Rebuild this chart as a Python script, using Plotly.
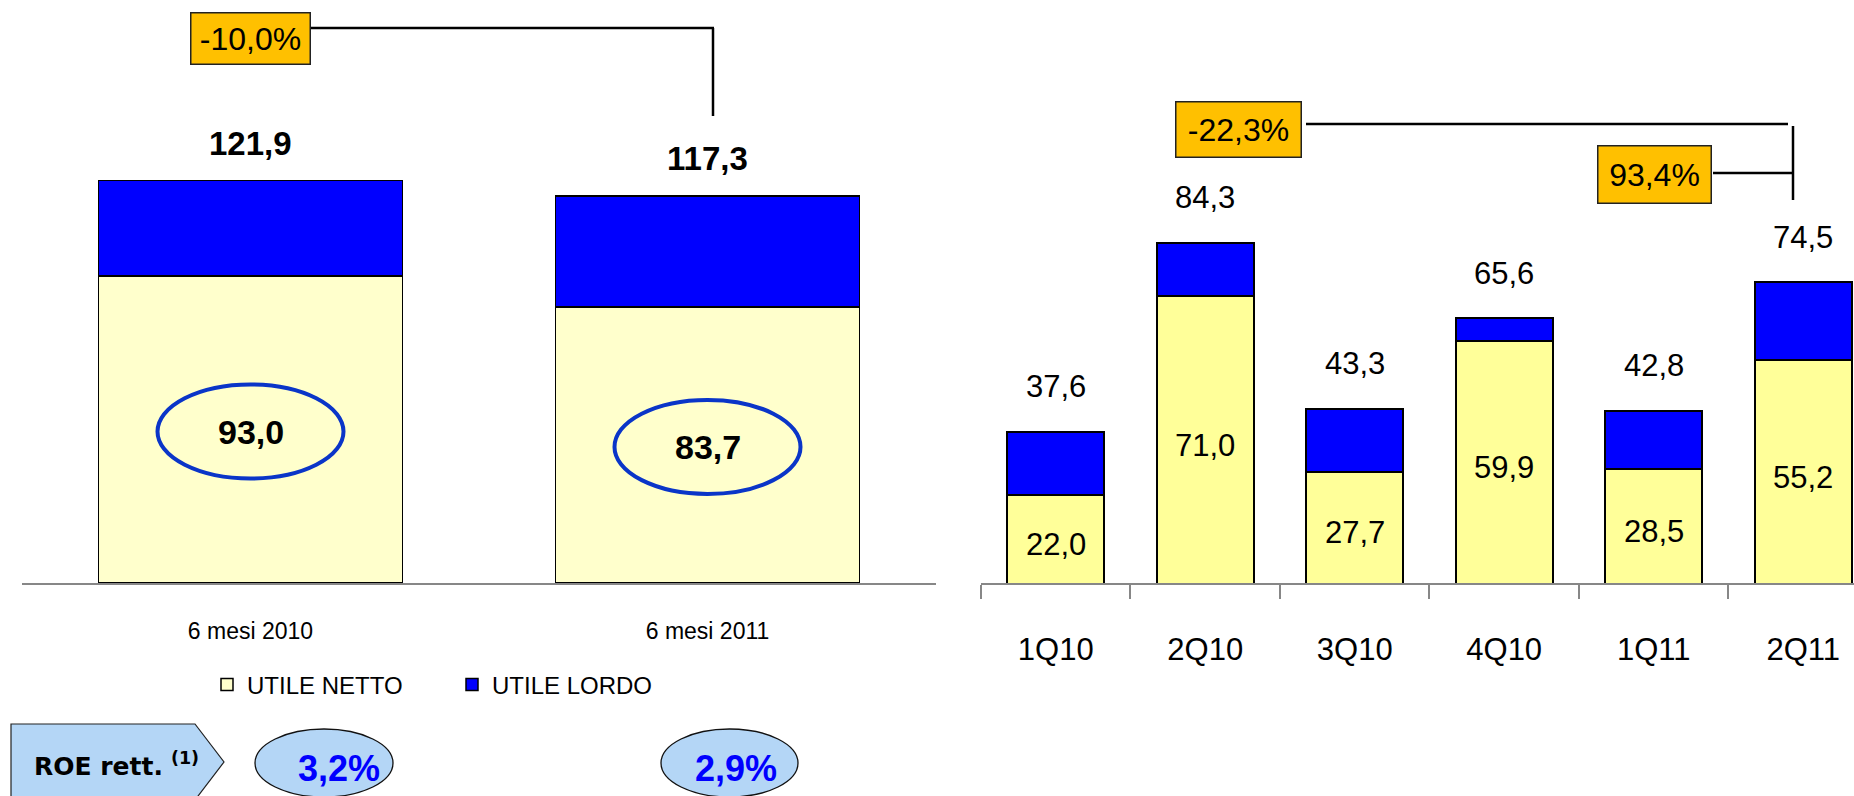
import plotly.graph_objects as go

# ---------------- data ----------------
periods = ["6 mesi 2010", "6 mesi 2011"]
netto_half = [93.0, 83.7]
lordo_half = [121.9, 117.3]
change_half = "-10,0%"

quarters = ["1Q10", "2Q10", "3Q10", "4Q10", "1Q11", "2Q11"]
netto_q = [22.0, 71.0, 27.7, 59.9, 28.5, 55.2]
lordo_q = [37.6, 84.3, 43.3, 65.6, 42.8, 74.5]
change_yoy = "-22,3%"
change_qoq = "93,4%"

roe_label = "ROE rett."
roe_values = ["3,2%", "2,9%"]

legend_names = ["UTILE NETTO", "UTILE LORDO"]

# ---------------- styling ----------------
W, H = 1854, 796
FONT = "Liberation Sans, Arial, sans-serif"
YEL_L = "#FFFFCC"
YEL_R = "#FFFF99"
BLUE = "#0000FF"
ORANGE = "#FFC000"
LIGHTBLUE = "#B4D6F6"
AXIS_GREY = "#878787"


def px(x):
    return x / W


def py(y):
    return 1 - y / H


def fmt(v):
    return f"{v:.1f}".replace(".", ",")


diff_half = [l - n for l, n in zip(lordo_half, netto_half)]
diff_q = [l - n for l, n in zip(lordo_q, netto_q)]

fig = go.Figure()

# left chart (6 months)
fig.add_trace(go.Bar(x=periods, y=netto_half, name=legend_names[0], width=0.666,
                     marker=dict(color=YEL_L, line=dict(color="black", width=1.5)),
                     xaxis="x", yaxis="y", legendrank=1))
fig.add_trace(go.Bar(x=periods, y=diff_half, name=legend_names[1], width=0.666,
                     marker=dict(color=BLUE, line=dict(color="black", width=1.5)),
                     xaxis="x", yaxis="y", legendrank=2))

# right chart (quarters)
fig.add_trace(go.Bar(x=quarters, y=netto_q, name=legend_names[0], width=0.65, showlegend=False,
                     marker=dict(color=YEL_R, line=dict(color="black", width=2)),
                     xaxis="x2", yaxis="y2"))
fig.add_trace(go.Bar(x=quarters, y=diff_q, name=legend_names[1], width=0.65, showlegend=False,
                     marker=dict(color=BLUE, line=dict(color="black", width=2)),
                     xaxis="x2", yaxis="y2"))

annotations = []
shapes = []

# left totals and circled net values
for i, (p, n, l) in enumerate(zip(periods, netto_half, lordo_half)):
    annotations.append(dict(x=p, y=l, xref="x", yref="y", text=f"<b>{fmt(l)}</b>",
                            showarrow=False, yanchor="middle", yshift=37,
                            font=dict(size=33, color="black", family=FONT)))
    annotations.append(dict(x=p, y=n / 2, xref="x", yref="y", text=f"<b>{fmt(n)}</b>",
                            showarrow=False, yanchor="middle", yshift=-2,
                            font=dict(size=34, color="black", family=FONT)))
    shapes.append(dict(type="circle", xref="x", yref="y", xsizemode="pixel", ysizemode="pixel",
                       xanchor=i, yanchor=n / 2, x0=-93, x1=93, y0=-49, y1=45,
                       line=dict(color="#0A35C8", width=4), fillcolor="rgba(0,0,0,0)"))

# right totals and inside net values
for q, n, l in zip(quarters, netto_q, lordo_q):
    annotations.append(dict(x=q, y=l, xref="x2", yref="y2", text=fmt(l),
                            showarrow=False, yanchor="middle", yshift=45,
                            font=dict(size=31, color="black", family=FONT)))
    annotations.append(dict(x=q, y=n / 2, xref="x2", yref="y2", text=fmt(n),
                            showarrow=False, yanchor="middle", yshift=-5,
                            font=dict(size=31, color="black", family=FONT)))

# orange change boxes
def box(text, cx, cy, w, h):
    annotations.append(dict(x=px(cx), y=py(cy), xref="paper", yref="paper", text=text,
                            showarrow=False, xanchor="center", yanchor="middle",
                            width=w, height=h, bgcolor=ORANGE, bordercolor="#222222",
                            borderwidth=1.5, borderpad=2,
                            font=dict(size=32, color="black", family=FONT)))

box(change_half, 250, 38, 114, 46)
box(change_yoy, 1238, 129, 120, 50)
box(change_qoq, 1654, 174, 108, 52)

def pline(x0, y0, x1, y1, w=2.5):
    shapes.append(dict(type="line", xref="paper", yref="paper",
                       x0=px(x0), y0=py(y0), x1=px(x1), y1=py(y1),
                       line=dict(color="black", width=w)))

pline(311, 28, 714, 28)
pline(713, 28, 713, 116)
pline(1306, 124, 1788, 124)
pline(1793, 126, 1793, 200)
pline(1713, 173, 1793, 173)

# ROE block
pent = [(11, 724), (195, 724), (224, 762), (195, 800), (11, 800)]
path = "M " + " L ".join(f"{px(a)},{py(b)}" for a, b in pent) + " Z"
shapes.append(dict(type="path", xref="paper", yref="paper", path=path,
                   fillcolor=LIGHTBLUE, line=dict(color="#222222", width=1.2)))
annotations.append(dict(x=px(32), y=py(764), xref="paper", yref="paper",
                        text=f"<b>{roe_label}</b> <b><sup>(1)</sup></b>", showarrow=False,
                        xanchor="left", yanchor="middle",
                        font=dict(size=25, color="black", family="DejaVu Sans, sans-serif")))
for (ex0, ex1, tx), val in zip([(255, 393, 339), (661, 798, 736)], roe_values):
    shapes.append(dict(type="circle", xref="paper", yref="paper",
                       x0=px(ex0), x1=px(ex1), y0=py(729), y1=py(797),
                       fillcolor=LIGHTBLUE, line=dict(color="#111111", width=1.3)))
    annotations.append(dict(x=px(tx), y=py(768), xref="paper", yref="paper",
                            text=f"<b>{val}</b>", showarrow=False,
                            xanchor="center", yanchor="middle",
                            font=dict(size=36, color=BLUE, family=FONT)))

fig.update_layout(
    width=W, height=H, autosize=False,
    margin=dict(l=0, r=0, t=0, b=0),
    paper_bgcolor="white", plot_bgcolor="white",
    barmode="stack", bargap=0.33,
    font=dict(family=FONT, color="black"),
    showlegend=True,
    legend=dict(orientation="h", x=px(207), y=py(685), xanchor="left", yanchor="middle",
                font=dict(size=24, family=FONT), entrywidth=200, entrywidthmode="pixels",
                bgcolor="rgba(0,0,0,0)", traceorder="normal"),
    xaxis=dict(domain=[px(22), px(936)], range=[-0.5, 1.5], showline=True,
               linecolor=AXIS_GREY, linewidth=2, ticks="", showgrid=False,
               zeroline=False, ticklabelstandoff=26,
               tickfont=dict(size=23, family=FONT, color="black"), fixedrange=True),
    yaxis=dict(domain=[py(583), 1], range=[0, 583 / 3.30], visible=False, fixedrange=True),
    xaxis2=dict(domain=[px(981), 1], range=[-0.5, 5.34], showline=True,
                linecolor=AXIS_GREY, linewidth=2, ticks="outside", ticklen=14,
                tickwidth=2, tickcolor=AXIS_GREY, tickson="boundaries", showgrid=False,
                zeroline=False, ticklabelstandoff=38,
                tickfont=dict(size=31, family=FONT, color="black"), fixedrange=True),
    yaxis2=dict(domain=[py(584), 1], range=[0, 584 / 4.05], visible=False, fixedrange=True),
    annotations=annotations,
    shapes=shapes,
)

fig.write_html("out.html", config={"displayModeBar": False},
               post_script="document.body.style.margin='0';document.body.style.overflow='hidden';")
